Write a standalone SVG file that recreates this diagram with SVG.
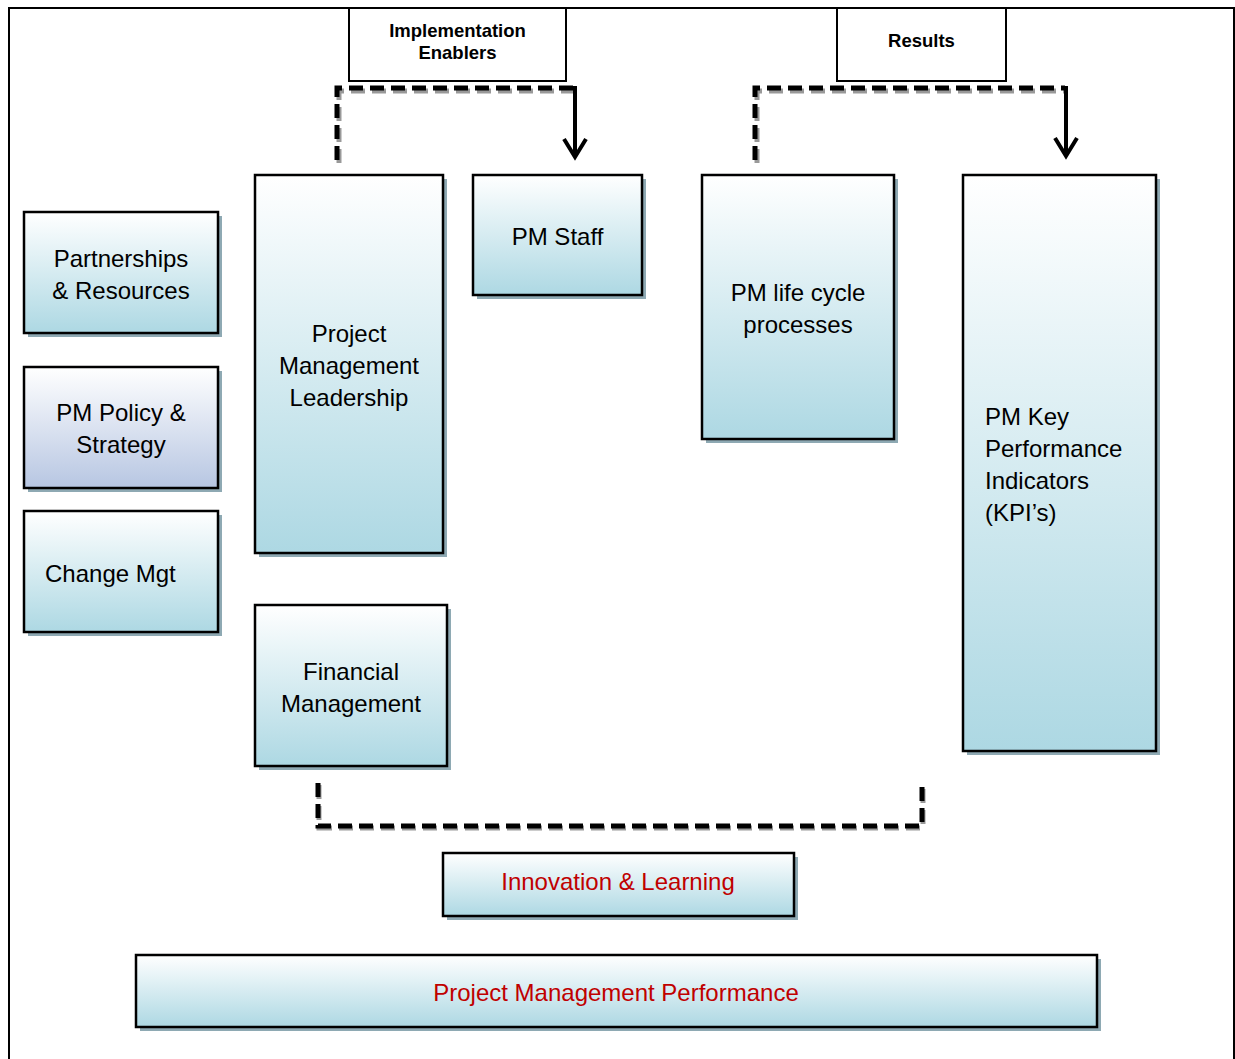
<svg xmlns="http://www.w3.org/2000/svg" width="1235" height="1059" viewBox="0 0 1235 1059">
<defs>
<linearGradient id="gb" x1="0" y1="0" x2="0" y2="1">
<stop offset="0" stop-color="#ffffff"/>
<stop offset="1" stop-color="#add8e3"/>
</linearGradient>
<linearGradient id="gp" x1="0" y1="0" x2="0" y2="1">
<stop offset="0" stop-color="#ffffff"/>
<stop offset="1" stop-color="#b7c6e2"/>
</linearGradient>
</defs>
<style>
.box{stroke:#000;stroke-width:2.5;fill:url(#gb)}
.pol{fill:url(#gp)}
.hdr{stroke:#000;stroke-width:2;fill:#fff}
.sh{fill:#8ea9b3}
.t{font-family:"Liberation Sans",Arial,sans-serif;font-size:24px;fill:#000;text-anchor:middle}
.tl{text-anchor:start}
.red{fill:#c00000}
.h{font-family:"Liberation Sans",Arial,sans-serif;font-size:18.5px;font-weight:bold;fill:#000;text-anchor:middle}
.dash{fill:none;stroke:#000;stroke-width:5;stroke-dasharray:14 7}
.dsh{fill:none;stroke:#999;stroke-width:5;stroke-dasharray:14 7}
.solid{fill:none;stroke:#000;stroke-width:4}
</style>
<path d="M9 1059 V8 H1234 V1059" fill="none" stroke="#000" stroke-width="2"/>
<g id="implementation-enablers">
<rect class="hdr" x="349" y="8" width="217" height="73"/>
<text class="h" x="457.5" y="37">Implementation</text>
<text class="h" x="457.5" y="59">Enablers</text>
</g>
<g id="results">
<rect class="hdr" x="837" y="8" width="169" height="73"/>
<text class="h" x="921.5" y="47">Results</text>
</g>
<g id="partnerships-resources">
<rect class="sh" x="28" y="216" width="194" height="121"/>
<rect class="box" x="24" y="212" width="194" height="121"/>
<text class="t" x="121" y="267">Partnerships</text>
<text class="t" x="121" y="299">&amp; Resources</text>
</g>
<g id="pm-policy-strategy">
<rect class="sh" x="28" y="371" width="194" height="121"/>
<rect class="box pol" x="24" y="367" width="194" height="121"/>
<text class="t" x="121" y="421">PM Policy &amp;</text>
<text class="t" x="121" y="453">Strategy</text>
</g>
<g id="change-mgt">
<rect class="sh" x="28" y="515" width="194" height="121"/>
<rect class="box" x="24" y="511" width="194" height="121"/>
<text class="t tl" x="45" y="582">Change Mgt</text>
</g>
<g id="pm-leadership">
<rect class="sh" x="259" y="179" width="188" height="378"/>
<rect class="box" x="255" y="175" width="188" height="378"/>
<text class="t" x="349" y="342">Project</text>
<text class="t" x="349" y="374">Management</text>
<text class="t" x="349" y="406">Leadership</text>
</g>
<g id="pm-staff">
<rect class="sh" x="477" y="179" width="169" height="120"/>
<rect class="box" x="473" y="175" width="169" height="120"/>
<text class="t" x="557.5" y="245">PM Staff</text>
</g>
<g id="pm-life-cycle">
<rect class="sh" x="706" y="179" width="192" height="264"/>
<rect class="box" x="702" y="175" width="192" height="264"/>
<text class="t" x="798" y="301">PM life cycle</text>
<text class="t" x="798" y="333">processes</text>
</g>
<g id="pm-kpi">
<rect class="sh" x="967" y="179" width="193" height="576"/>
<rect class="box" x="963" y="175" width="193" height="576"/>
<text class="t tl" x="985" y="425">PM Key</text>
<text class="t tl" x="985" y="457">Performance</text>
<text class="t tl" x="985" y="489">Indicators</text>
<text class="t tl" x="985" y="521">(KPI’s)</text>
</g>
<g id="financial-management">
<rect class="sh" x="259" y="609" width="192" height="161"/>
<rect class="box" x="255" y="605" width="192" height="161"/>
<text class="t" x="351" y="680">Financial</text>
<text class="t" x="351" y="712">Management</text>
</g>
<g id="innovation-learning">
<rect class="sh" x="447" y="857" width="351" height="63"/>
<rect class="box" x="443" y="853" width="351" height="63"/>
<text class="t red" x="618" y="890">Innovation &amp; Learning</text>
</g>
<g id="pm-performance">
<rect class="sh" x="140" y="959" width="961" height="72"/>
<rect class="box" x="136" y="955" width="961" height="72"/>
<text class="t red" x="616" y="1001">Project Management Performance</text>
</g>
<g id="connectors">
<path class="dsh" d="M338 161 V89 H574" transform="translate(1,2)"/>
<path class="dash" d="M337 160 V88 H574"/>
<path class="solid" d="M575 86 V157"/>
<path class="solid" stroke-width="4.5" d="M564 139 L575 157 L586 139"/>
<path class="dsh" d="M756 161 V89 H1065" transform="translate(1,2)"/>
<path class="dash" d="M755 160 V88 H1065"/>
<path class="solid" d="M1066 86 V156"/>
<path class="solid" stroke-width="4.5" d="M1055 138 L1066 156 L1077 138"/>
<path class="dsh" d="M318 783 V826 H922 V781" transform="translate(1,2)"/>
<path class="dash" d="M318 783 V826 H922 V781"/>
</g>
</svg>
